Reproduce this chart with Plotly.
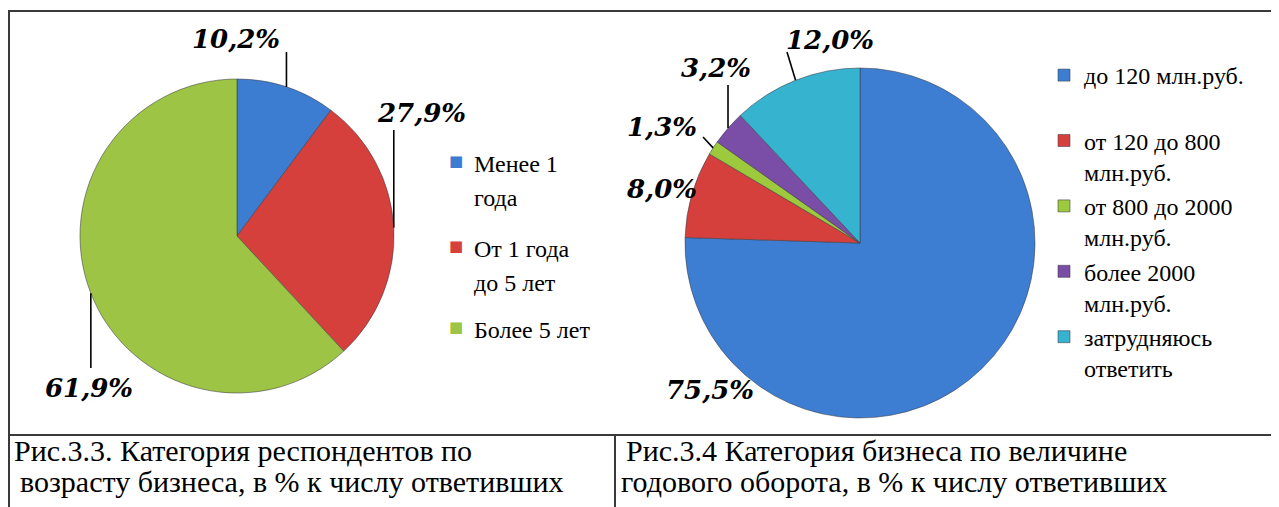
import math
import plotly.graph_objects as go

W, H = 1279, 507
OFF = 8  # page body margin of the browser

# ---------------- data ----------------
age_labels = ["Менее 1 года", "От 1 года до 5 лет", "Более 5 лет"]
age_values = [10.2, 27.9, 61.9]
age_legend_lines = [["Менее 1", "года"], ["От 1 года", "до 5 лет"], ["Более 5 лет"]]

turnover_labels = ["до 120 млн.руб.", "от 120 до 800 млн.руб.", "от 800 до 2000 млн.руб.",
                   "более 2000 млн.руб.", "затрудняюсь ответить"]
turnover_values = [75.5, 8.0, 1.3, 3.2, 12.0]
turnover_legend = ["до 120 млн.руб.<br> ", "от 120 до 800<br>млн.руб.", "от 800 до 2000<br>млн.руб.",
                   "более 2000<br>млн.руб.", "затрудняюсь<br>ответить"]

caption_left = ["Рис.3.3. Категория респондентов по", "возрасту бизнеса, в % к числу ответивших"]
caption_right = ["Рис.3.4 Категория бизнеса по величине", "годового оборота, в % к числу ответивших"]

# ---------------- styles ----------------
age_colors = ["#3C7DD1", "#D6403C", "#9DC445"]
turn_colors = ["#3D7ED2", "#D6403C", "#9DC93C", "#7A4EA6", "#35B3CF"]
F_CAP = "Tinos"
F_LAB = "DejaVu Serif"
F_LEG = "Liberation Serif"

def px(x):
    return (x - OFF) / W

def py(y):
    return 1 - (y - OFF) / H

def fmt(v):
    return f"{v:.1f}".replace(".", ",") + "%"

P1 = dict(cx=237, cy=236, r=157)
P2 = dict(cx=860, cy=243, r=175)

def domain(p):
    return dict(x=[px(p["cx"] - p["r"]), px(p["cx"] + p["r"])],
                y=[py(p["cy"] + p["r"]), py(p["cy"] - p["r"])])

def mid_points(p, values):
    tot = sum(values)
    acc = 0
    pts = []
    for v in values:
        a = 2 * math.pi * (acc + v / 2) / tot
        pts.append((p["cx"] + p["r"] * math.sin(a), p["cy"] - p["r"] * math.cos(a)))
        acc += v
    return pts

fig = go.Figure()
fig.add_trace(go.Pie(
    labels=age_labels, values=age_values, sort=False, direction="clockwise", rotation=0,
    textinfo="none", hoverinfo="label+percent", showlegend=False,
    marker=dict(colors=age_colors, line=dict(color="rgba(60,60,70,0.55)", width=1)),
    domain=domain(P1)))
fig.add_trace(go.Pie(
    labels=turnover_legend, values=turnover_values, sort=False, direction="clockwise", rotation=0,
    textinfo="none", hoverinfo="label+percent", showlegend=True,
    marker=dict(colors=turn_colors, line=dict(color="rgba(60,60,70,0.55)", width=1)),
    domain=domain(P2)))

shapes = []
annotations = []

line_style = dict(color="#3a3a3a", width=2)
for (x0, y0, x1, y1) in [(8, 11, 1290, 11), (9, 11, 9, 520), (9, 435, 1290, 435), (615, 435, 615, 520)]:
    shapes.append(dict(type="line", xref="paper", yref="paper", x0=px(x0), y0=py(y0),
                       x1=px(x1), y1=py(y1), line=line_style, layer="above"))

age_label_pos = [(236, 39), (421, 113), (89, 388)]
age_leader_end = [(None, 52), (None, 130), (None, 368)]
turn_label_pos = [(710, 390), (661, 189), (662, 127), (716, 68), (830, 40)]
turn_leader_end = [None, None, (703, 137), (None, 85), (787, 52)]

for p, vals, lpos, lend in [(P1, age_values, age_label_pos, age_leader_end),
                            (P2, turnover_values, turn_label_pos, turn_leader_end)]:
    mids = mid_points(p, vals)
    for v, (mx, my), (tx, ty), e in zip(vals, mids, lpos, lend):
        if e is not None:
            ex = mx if e[0] is None else e[0]
            shapes.append(dict(type="line", xref="paper", yref="paper", x0=px(mx), y0=py(my),
                               x1=px(ex), y1=py(e[1]), line=dict(color="black", width=1.6)))
        annotations.append(dict(text=f"<b><i>{fmt(v)}</i></b>", x=px(tx), y=py(ty),
                                xref="paper", yref="paper", showarrow=False,
                                xanchor="center", yanchor="middle",
                                font=dict(family=F_LAB, size=26, color="black")))

leg1_item_top = [164, 249, 330]
leg1_line_gap = 34
for lines, col, y0 in zip(age_legend_lines, age_colors, leg1_item_top):
    annotations.append(dict(text="■", x=px(456.5), y=py(y0 - 3), xref="paper", yref="paper",
                            showarrow=False, xanchor="center", yanchor="middle",
                            font=dict(family="DejaVu Sans", size=15, color=col)))
    for i, t in enumerate(lines):
        annotations.append(dict(text=t, x=px(472), y=py(y0 + i * leg1_line_gap), xref="paper",
                                yref="paper", showarrow=False, xanchor="left", yanchor="middle",
                                font=dict(family=F_LEG, size=24, color="black")))

for lines, xs in [(caption_left, [12, 18]), (caption_right, [624, 619])]:
    for t, x, base in zip(lines, xs, [460, 491]):
        annotations.append(dict(text=t, x=px(x), y=py(base - 10),
                                xref="paper", yref="paper", showarrow=False,
                                xanchor="left", yanchor="middle",
                                font=dict(family=F_CAP, size=30, color="black")))

fig.update_layout(
    width=W, height=H, margin=dict(l=0, r=0, t=0, b=0),
    paper_bgcolor="white", plot_bgcolor="white",
    shapes=shapes, annotations=annotations,
    legend=dict(x=px(1044), y=py(53), xanchor="left", yanchor="top", valign="top",
                font=dict(family=F_LEG, size=24, color="black"),
                bgcolor="rgba(0,0,0,0)", traceorder="normal"),
)

fig.write_html("out.html")
